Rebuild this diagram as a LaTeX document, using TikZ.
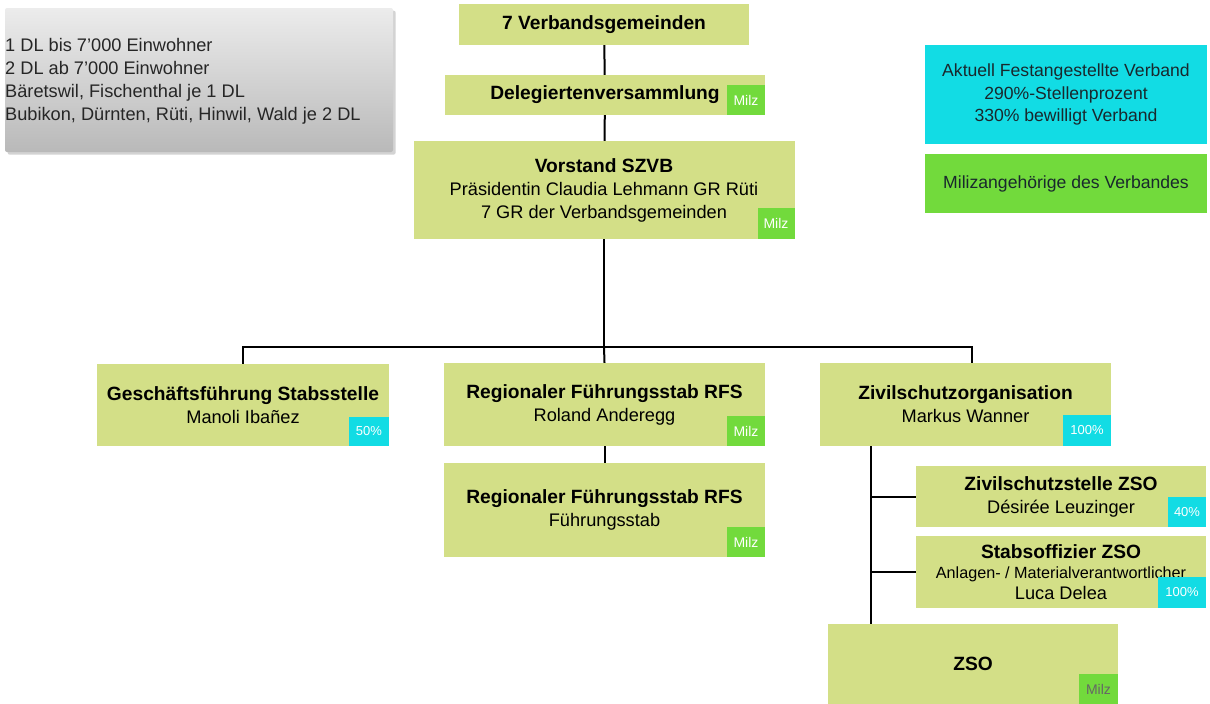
\documentclass[tikz,border=0pt]{standalone}
\usepackage{fontspec}
\setmainfont{Liberation Sans}
\usetikzlibrary{positioning,shadows}

\definecolor{olive}{RGB}{211,223,135}
\definecolor{milzgreen}{RGB}{114,218,60}
\definecolor{pctcyan}{RGB}{18,220,228}

\newcommand{\hd}[1]{{\fontsize{19.2}{23}\selectfont\bfseries #1}}

\begin{document}
\begin{tikzpicture}[x=1pt,y=-1pt,
    box/.style={fill=olive, inner sep=0pt, align=center, font=\fontsize{18.2}{23}\selectfont},
    milz/.style={fill=milzgreen, inner sep=0pt, minimum width=38pt, minimum height=30pt,
                 text=white, font=\fontsize{14}{14}\selectfont, anchor=south east},
    pct/.style={fill=pctcyan, inner sep=0pt, minimum width=38pt, minimum height=30pt,
                text=white, font=\fontsize{13}{13}\selectfont, anchor=south east},
    legend/.style={inner sep=0pt, minimum width=282pt, align=center, text={rgb,255:red,25;green,40;blue,45},
                   font=\fontsize{17.6}{22.5}\selectfont},
    conn/.style={line width=2pt}]
  \useasboundingbox (0,0) rectangle (1210,704);

  % note box
  \node[rounded corners=2pt, minimum width=388pt, minimum height=144pt, inner sep=0pt,
        top color=gray!15, bottom color=gray!55, drop shadow={opacity=0.35}]
        (note) at (199,80) {};
  \node[anchor=west, align=left, inner sep=0pt, font=\fontsize{18.2}{23}\selectfont,
        text=black!85] (notetext) at (5,81)
        {1 DL bis 7'000 Einwohner\\2 DL ab 7'000 Einwohner\\B\"aretswil, Fischenthal je 1 DL\\Bubikon, D\"urnten, R\"uti, Hinwil, Wald je 2 DL};

  % legend
  \node[legend, fill=pctcyan, minimum height=99pt] (fest) at (1066,94.5)
        {Aktuell Festangestellte Verband\\290\%-Stellenprozent\\330\% bewilligt Verband};
  \node[legend, fill=milzgreen, minimum height=59pt] (miliz) at (1066,183.5)
        {Milizangeh\"orige des Verbandes};

  % top
  \node[box, minimum width=290pt, minimum height=41pt] (gemeinden) at (604,24.5) {\hd{7 Verbandsgemeinden}};
  \node[box, minimum width=320pt, minimum height=40pt] (deleg) at (605,95) {\hd{Delegiertenversammlung}};
  \node[milz] (m1) at (deleg.south east) {Milz};
  \node[box, minimum width=381pt, minimum height=98pt] (vorstand) at (604,190)
        {\hd{Vorstand SZVB}\\Pr\"asidentin Claudia Lehmann GR R\"uti\\7 GR der Verbandsgemeinden};
  \node[milz, minimum width=37pt, minimum height=31pt] (m2) at (vorstand.south east) {Milz};

  % second level
  \node[box, minimum width=292pt, minimum height=82pt] (gf) at (243,405)
        {\hd{Gesch\"aftsf\"uhrung Stabsstelle}\\Manoli Iba\~nez};
  \node[pct, minimum width=40pt, minimum height=29pt] (p1) at (gf.south east) {50\%};
  \node[box, minimum width=321pt, minimum height=83pt] (rfs) at (604.5,404.5)
        {\hd{Regionaler F\"uhrungsstab RFS}\\Roland Anderegg};
  \node[milz] (m3) at (rfs.south east) {Milz};
  \node[box, minimum width=321pt, minimum height=94pt] (rfsstab) at (604.5,510)
        {\hd{Regionaler F\"uhrungsstab RFS}\\F\"uhrungsstab};
  \node[milz] (m4) at (rfsstab.south east) {Milz};
  \node[box, minimum width=291pt, minimum height=83pt] (zsoorg) at (965.5,404.5)
        {\hd{Zivilschutzorganisation}\\Markus Wanner};
  \node[pct, minimum width=48pt, minimum height=31pt] (p2) at (zsoorg.south east) {100\%};

  % ZSO branch
  \node[box, minimum width=290pt, minimum height=61pt] (zst) at (1061,496.5)
        {\hd{Zivilschutzstelle ZSO}\\D\'esir\'ee Leuzinger};
  \node[pct] (p3) at (zst.south east) {40\%};
  \node[box, minimum width=290pt, minimum height=72pt] (stabsof) at (1061,572)
        {\hd{Stabsoffizier ZSO}\\[-3pt]{\fontsize{16.2}{18}\selectfont Anlagen- / Materialverantwortlicher}\\[-2pt]Luca Delea};
  \node[pct, minimum width=48pt, minimum height=31pt] (p4) at (stabsof.south east) {100\%};
  \node[box, minimum width=290pt, minimum height=80pt] (zso) at (973,664) {\hd{ZSO}};
  \node[milz, minimum width=39pt, text=black!60] (m5) at (zso.south east) {Milz};

  % connectors
  \coordinate (bus) at (604,347);
  \coordinate (trunk) at (871,446);
  \coordinate (trunkend) at (871,624);
  \draw[conn] (gemeinden) -- (deleg);
  \draw[conn] (deleg) -- (vorstand);
  \draw[conn] (vorstand.south) -- (bus);
  \draw[conn] (gf.north) |- (bus) -| ([xshift=6.5pt]zsoorg.north);
  \draw[conn] (bus) -- (rfs.north);
  \draw[conn] (rfs) -- (rfsstab);
  \draw[conn] (trunk) -- (trunkend);
  \draw[conn] (trunk |- zst.west) -- (zst.west);
  \draw[conn] (trunk |- stabsof.west) -- (stabsof.west);
\end{tikzpicture}
\end{document}
